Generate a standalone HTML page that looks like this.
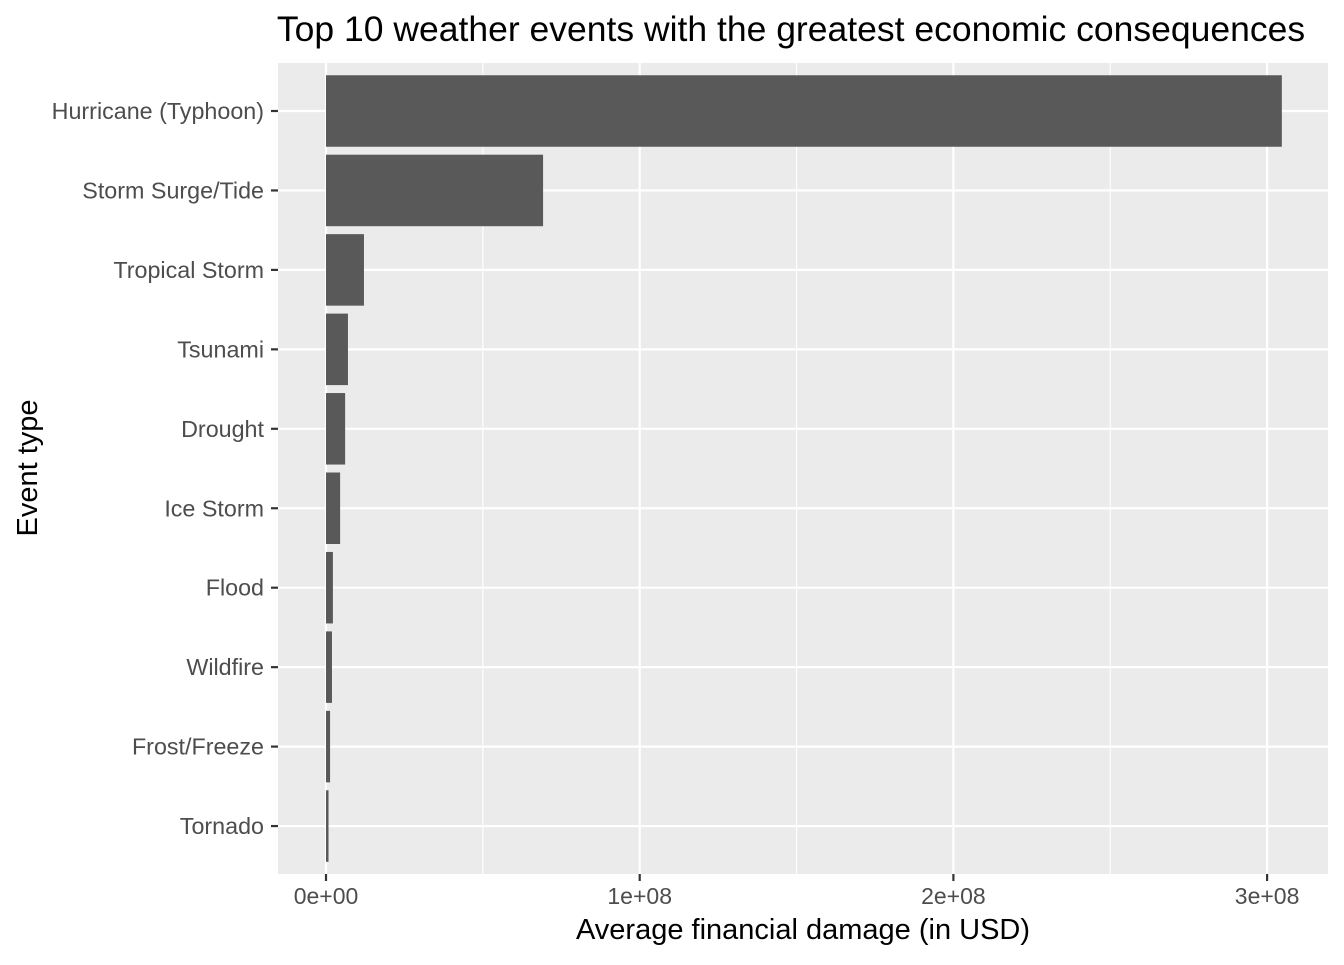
<!DOCTYPE html>
<html><head><meta charset="utf-8"><style>
body{margin:0;background:#fff;font-family:"Liberation Sans",sans-serif;}
</style></head><body>
<svg width="1344" height="960" xmlns="http://www.w3.org/2000/svg" font-family="Liberation Sans, sans-serif">
<text x="791" y="41" font-size="35.5" text-anchor="middle" fill="#000">Top 10 weather events with the greatest economic consequences</text>
<rect x="278" y="63" width="1050" height="811" fill="#EBEBEB"/>
<g id="grid"></g><g id="bars"></g><g id="axes"></g>
<text x="803" y="939" font-size="29" text-anchor="middle">Average financial damage (in USD)</text>
<text transform="translate(37,468) rotate(-90)" font-size="29" text-anchor="middle">Event type</text>
</svg>
<script>
const categories=["Hurricane (Typhoon)","Storm Surge/Tide","Tropical Storm","Tsunami","Drought","Ice Storm","Flood","Wildfire","Frost/Freeze","Tornado"];
const values=[3.047e8,0.692e8,0.121e8,0.070e8,0.061e8,0.045e8,0.022e8,0.019e8,0.013e8,0.008e8];
const tickValues=[0,1e8,2e8,3e8];
const tickLabels=["0e+00","1e+08","2e+08","3e+08"];
const NS="http://www.w3.org/2000/svg";
const x=v=>326+v*(313.7/1e8);
const y=i=>111+i*79.45;
function mk(t,a,p){const e=document.createElementNS(NS,t);for(const k in a)e.setAttribute(k,a[k]);p.appendChild(e);return e;}
const G=document.getElementById('grid'),B=document.getElementById('bars'),A=document.getElementById('axes');
for(let i=0;i<tickValues.length-1;i++){const m=(tickValues[i]+tickValues[i+1])/2;
const l=mk('line',{x1:x(m),x2:x(m),y1:63,y2:874,stroke:'#fff','stroke-width':1.1},G);

}
tickValues.forEach((v,i)=>{const l=mk('line',{x1:x(v),x2:x(v),y1:63,y2:874,stroke:'#fff','stroke-width':2.2},G);


const t=mk('line',{x1:x(v),x2:x(v),y1:874,y2:881,stroke:'#333','stroke-width':2.2},A);


const tx=mk('text',{x:x(v),y:904,'font-size':23,'text-anchor':'middle',fill:'#4D4D4D'},A);tx.textContent=tickLabels[i];

});
categories.forEach((c,i)=>{const l=mk('line',{x1:278,x2:1328,y1:y(i),y2:y(i),stroke:'#fff','stroke-width':2.2},G);


const r=mk('rect',{x:x(0),y:y(i)-35.75,width:x(values[i])-x(0),height:71.5,fill:'#595959'},B);


const t=mk('line',{x1:271,x2:278,y1:y(i),y2:y(i),stroke:'#333','stroke-width':2.2},A);


const tx=mk('text',{x:264,y:y(i)+8,'font-size':23.3,'text-anchor':'end',fill:'#4D4D4D'},A);tx.textContent=c;

});
</script>
</body></html>
